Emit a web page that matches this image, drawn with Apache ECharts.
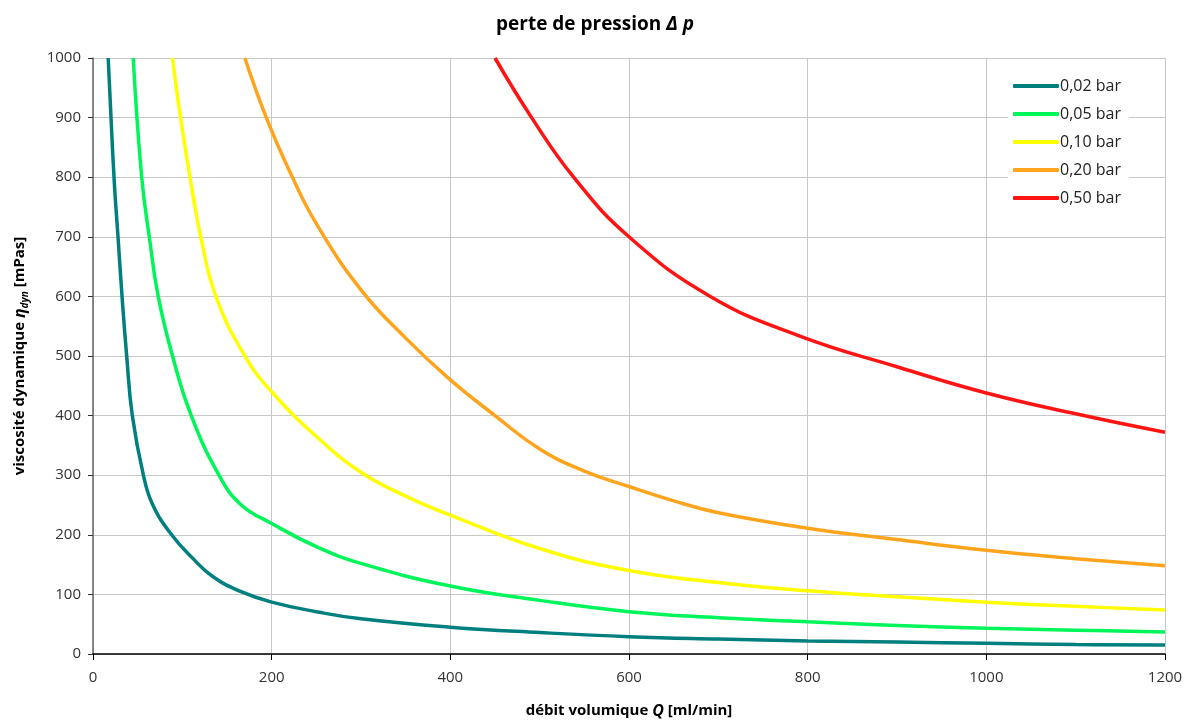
<!DOCTYPE html>
<html><head><meta charset="utf-8">
<script src="https://cdn.jsdelivr.net/npm/echarts@6/dist/echarts.min.js"></script>
<style>html,body{margin:0;padding:0;background:#fff;overflow:hidden}#c{width:1188px;height:722px}</style>
</head><body><div id="c"></div>
<script>
const seriesNames = ['0,02 bar', '0,05 bar', '0,10 bar', '0,20 bar', '0,50 bar'];
const s002 = [[17,1000],[23.5,800],[28,700],[32.5,600],[37.7,500],[44,400],[56.4,300],[67,250],[88,200],[112,160],[134,130],[165,105],[200,87],[250,71],[300,59],[400,45],[500,36],[600,29],[700,25],[800,22],[900,20],[1000,18],[1100,16],[1200,15]];
const s005 = [[45,1000],[54.5,800],[63,700],[73,600],[89,500],[110,400],[141,300],[166,250],[200,219],[250,180],[300,152],[400,114],[500,90],[600,71],[700,61],[800,54],[900,48],[1000,43],[1100,40],[1200,37]];
const s010 = [[89,1000],[98,900],[108.6,800],[120.6,700],[137.6,600],[170,500],[200,440],[250,365],[300,305],[350,265],[400,233],[500,177],[600,140],[700,120],[800,106],[900,96],[1000,87],[1100,80],[1200,74]];
const s020 = [[170,1000],[194,900],[221,807],[250,722],[300,611],[350,530],[400,460],[450,400],[500,344],[550,307],[600,281],[650,257],[700,237],[800,211],[900,192],[1000,174],[1100,160],[1200,148]];
const s050 = [[450,1000],[491,900],[538,800],[600,700],[691,600],[792,533],[900,482],[1000,438],[1100,403],[1200,372]];
const allData = [s002, s005, s010, s020, s050];
const colors = ['#007F7F', '#00F55A', '#FFFF00', '#FFA41C', '#FF1414'];

const font = '"Open Sans", "Noto Sans", sans-serif';
const chart = echarts.init(document.getElementById('c'));
chart.setOption({
  animation: false,
  backgroundColor: '#fff',
  title: {
    text: '{b|perte de pression }{i|Δ p}',
    left: 590, top: 10, textAlign: 'center',
    textStyle: {
      rich: {
        b: {fontFamily: font, fontWeight: 'bold', fontSize: 19, color: '#000'},
        i: {fontFamily: font, fontWeight: 'bold', fontStyle: 'italic', fontSize: 19, color: '#000'}
      }
    }
  },
  legend: {
    orient: 'vertical', left: 1008, top: 74,
    itemWidth: 46, itemHeight: 4, itemGap: 8,
    backgroundColor: '#fff', padding: [2, 8, 2, 5],
    textStyle: {fontFamily: font, fontSize: 16, color: '#222', padding: [0, 0, 0, -4], lineHeight: 20},
    icon: 'roundRect',
    data: seriesNames
  },
  grid: {left: 93, width: 1072, top: 58, height: 596, containLabel: false, outerBoundsMode: 'none'},
  xAxis: {
    type: 'value', min: 0, max: 1200, interval: 200,
    name: '{b|débit volumique }{i|Q}{b| [ml/min]}',
    nameLocation: 'middle', nameGap: 49,
    nameTextStyle: {rich: {
      b: {fontFamily: font, fontWeight: 'bold', fontSize: 15, color: '#000'},
      i: {fontFamily: font, fontWeight: 'bold', fontStyle: 'italic', fontSize: 16, color: '#000'}
    }},
    axisLine: {show: true, onZero: false, lineStyle: {color: '#000', width: 1.5}},
    axisTick: {show: true, length: 6, lineStyle: {color: '#000'}},
    axisLabel: {fontFamily: font, fontSize: 15, color: '#333', margin: 16, formatter: v => String(v)},
    splitLine: {show: true, lineStyle: {color: '#c8c8c8', width: 1}}
  },
  yAxis: {
    type: 'value', min: 0, max: 1000, interval: 100,
    name: '{b|viscosité dynamique }{i|η}{s|dyn}{b| [mPas]}',
    nameLocation: 'middle', nameGap: 63, nameRotate: 90,
    nameTextStyle: {rich: {
      b: {fontFamily: font, fontWeight: 'bold', fontSize: 15, color: '#000', lineHeight: 20},
      i: {fontFamily: font, fontWeight: 'bold', fontStyle: 'italic', fontSize: 16, color: '#000', lineHeight: 20},
      s: {fontFamily: font, fontWeight: 'bold', fontStyle: 'italic', fontSize: 10, color: '#000', lineHeight: 12, verticalAlign: 'bottom', padding: [6, 0, 0, 0]}
    }},
    axisLine: {show: true, lineStyle: {color: '#666', width: 1.5}},
    axisTick: {show: true, length: 5, lineStyle: {color: '#333'}},
    axisLabel: {fontFamily: font, fontSize: 15, color: '#333', margin: 12, formatter: v => String(v)},
    splitLine: {show: true, lineStyle: {color: '#c8c8c8', width: 1}}
  },
  series: allData.map((d, i) => ({
    name: seriesNames[i], type: 'line', data: d,
    smooth: 0.45,
    showSymbol: false, symbol: 'none',
    lineStyle: {color: colors[i], width: 3.5},
    itemStyle: {color: colors[i]},
    clip: true
  }))
});
</script></body></html>
